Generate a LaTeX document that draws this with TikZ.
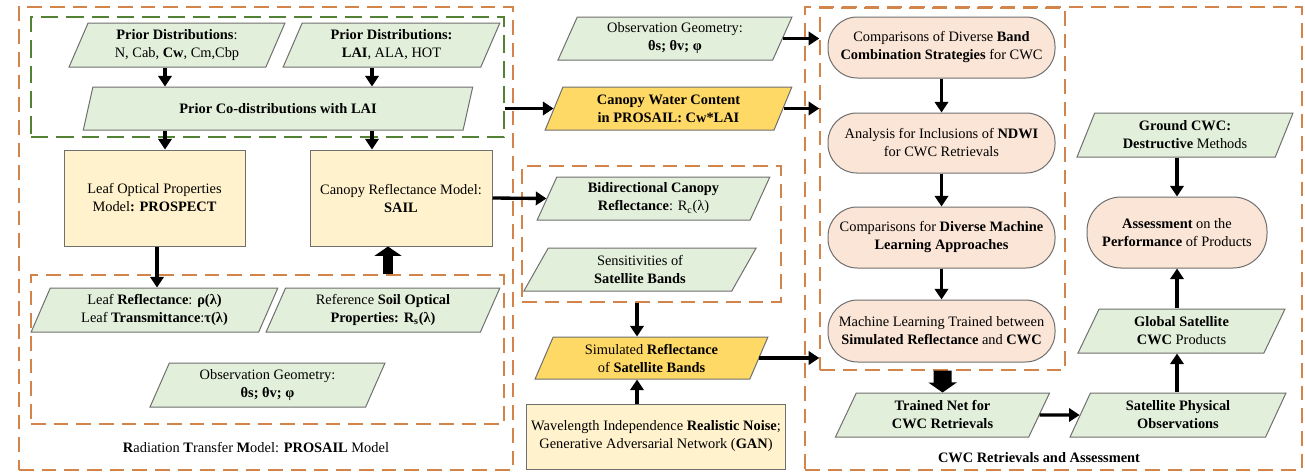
\documentclass[tikz,border=0pt]{standalone}
\usepackage{fontspec}
\setmainfont{Liberation Serif}
\usetikzlibrary{shapes.geometric,arrows.meta}

\definecolor{parafill}{HTML}{E2EFDA}
\definecolor{boxfill}{HTML}{FFF2CC}
\definecolor{goldfill}{HTML}{FFD966}
\definecolor{peachfill}{HTML}{FBE5D6}
\definecolor{edgegray}{HTML}{6F6F6F}
\definecolor{dashorange}{HTML}{D2844A}
\definecolor{dashgreen}{HTML}{548235}

\tikzset{every picture/.style={line width=0.75pt}}
\tikzset{
  para/.style 2 args={trapezium, trapezium left angle=68, trapezium right angle=112,
    trapezium stretches=true, draw=edgegray, fill=parafill, align=center, inner sep=1pt,
    minimum width=#1*0.75pt, minimum height=#2*0.75pt},
  gold/.style={fill=goldfill},
  sqbox/.style 2 args={rectangle, draw=edgegray, fill=boxfill, align=center,
    minimum width=#1*0.75pt, minimum height=#2*0.75pt},
  pill/.style 2 args={rectangle, rounded corners=#2*0.36pt, draw=edgegray, fill=peachfill,
    align=center, minimum width=#1*0.75pt, minimum height=#2*0.75pt},
  frm/.style 2 args={rectangle, draw=dashorange, dash pattern=on 11pt off 6pt, line width=1.1pt,
    inner sep=0pt, minimum width=#1*0.75pt, minimum height=#2*0.75pt},
  gfrm/.style 2 args={frm={#1}{#2}, draw=dashgreen, dash pattern=on 13pt off 6pt},
  arr/.style={-{Triangle[length=8pt,width=10pt]}, line width=2.5pt},
  blk/.style={-{Triangle[length=7pt,width=20pt]}, line width=7.5pt}
}

\begin{document}
\begin{tikzpicture}[x=0.75pt,y=0.75pt,yscale=-1,xscale=1,
  every node/.style={font=\fontsize{10.8}{13.5}\selectfont}]
	\useasboundingbox (0,0) rectangle (1305,471);

	%Dashed frames
	\node[frm={494}{463}] (outL) at (266,238.5) {};
	\node[gfrm={473}{120}] (prior) at (267.5,77) {};
	\node[frm={473}{149}] (inL) at (267.5,349.5) {};
	\node[frm={259}{136}] (midB) at (651.5,234) {};
	\node[frm={497}{463}] (outR) at (1053.5,238.5) {};
	\node[frm={245}{362}] (inR) at (942.5,189) {};

	%Left part: PROSAIL
	\node[para={216}{44}] (pd1) at (177,45) {\textbf{Prior Distributions}:\\N, Cab, \textbf{Cw}, Cm,Cbp};
	\node[para={217}{44}] (pd2) at (391.5,45) {\textbf{Prior Distributions:}\\\textbf{LAI}, ALA, HOT};
	\node[para={390}{43}] (codist) at (278,108.5) {\textbf{Prior Co-distributions with LAI}};
	\node[sqbox={181}{96}] (prospect) at (154.5,198) {Leaf Optical Properties\\Model\textbf{: PROSPECT}};
	\node[sqbox={182}{96}] (sail) at (401,198) {Canopy Reflectance Model:\\\textbf{SAIL}};
	\node[para={247}{44}] (leafrt) at (154.5,310) {Leaf \textbf{Reflectance}: \textbf{ρ(λ)}\\Leaf \textbf{Transmittance}:\textbf{τ(λ)}};
	\node[para={234}{44}] (soil) at (383,310) {Reference \textbf{Soil Optical}\\\textbf{Properties: R\textsubscript{s}(λ)}};
	\node[para={235}{44}] (geomL) at (267.5,385) {Observation Geometry:\\\textbf{θs; θv; φ}};
	% Text Node
	\node (lblL) at (256,448) {\textbf{R}adiation \textbf{T}ransfer \textbf{M}odel: \textbf{PROSAIL} Model};

	%Middle part
	\node[para={234}{43}] (geomM) at (675,38.5) {Observation Geometry:\\\textbf{θs; θv; φ}};
	\node[para={247}{43}, gold] (cwc) at (668.5,108.5) {\textbf{Canopy Water Content}\\\textbf{in PROSAIL: Cw*LAI}};
	\node[para={233}{43}] (bidir) at (653.5,198.5) {\textbf{Bidirectional Canopy}\\\textbf{Reflectance}: R\textsubscript{c}(λ)};
	\node[para={234}{43}] (sens) at (640,269.5) {Sensitivities of\\\textbf{Satellite Bands}};
	\node[para={233}{42}, gold] (simref) at (651.5,358) {Simulated \textbf{Reflectance}\\of \textbf{Satellite Bands}};
	\node[sqbox={258}{65}] (gan) at (656,436.5) {Wavelength Independence \textbf{Realistic Noise};\\Generative Adversarial Network (\textbf{GAN})};

	%Right part: retrievals
	\node[pill={227}{61}] (band) at (941.5,47.5) {Comparisons of Diverse \textbf{Band}\\\textbf{Combination Strategies} for CWC};
	\node[pill={227}{60}] (ndwi) at (941.5,143) {Analysis for Inclusions of \textbf{NDWI}\\for CWC Retrievals};
	\node[pill={227}{61}] (mlcomp) at (941.5,237.5) {Comparisons for \textbf{Diverse Machine}\\\textbf{Learning Approaches}};
	\node[pill={227}{62}] (mltrain) at (941.5,331) {Machine Learning Trained between\\\textbf{Simulated Reflectance} and \textbf{CWC}};
	\node[para={215}{44}] (tnet) at (942.5,415) {\textbf{Trained Net for}\\\textbf{CWC Retrievals}};
	\node[para={216}{44}] (ground) at (1185,135) {\textbf{Ground CWC:}\\\textbf{Destructive} Methods};
	\node[pill={180}{71}] (assess) at (1177,232.5) {\textbf{Assessment} on the\\\textbf{Performance} of Products};
	\node[para={209}{44}] (glob) at (1181.5,331) {\textbf{Global Satellite}\\\textbf{CWC} Products};
	\node[para={216}{44}] (satobs) at (1178,415) {\textbf{Satellite Physical}\\\textbf{Observations}};
	% Text Node
	\node (lblR) at (1039,458) {\textbf{CWC Retrievals and Assessment}};

	%Arrow columns
	\coordinate (colA) at (165,0);
	\coordinate (colB) at (372,0);
	\coordinate (colC) at (157,0);
	\coordinate (colD) at (388,0);
	\coordinate (colE) at (637,0);

	%Straight Lines
	\draw[arr] (pd1.south -| colA) -- (codist.north -| colA);
	\draw[arr] (pd2.south -| colB) -- (codist.north -| colB);
	\draw[arr] (codist.south -| colA) -- (prospect.north -| colA);
	\draw[arr] (codist.south -| colB) -- (sail.north -| colB);
	\draw[arr] (prospect.south -| colC) -- (leafrt.north -| colC);
	\draw[blk] (inL.north -| colD) -- (sail.south -| colD);
	\draw[arr] (cwc.west -| prior.east) -- (cwc.west);
	\draw[arr] (sail.east) -- (bidir.west);
	\draw[arr] (midB.south -| colE) -- (simref.north -| colE);
	\draw[arr] (gan.north -| colE) -- (simref.south -| colE);
	\draw[arr] (geomM.east) -- (geomM.east -| inR.west);
	\draw[arr] (cwc.east) -- (cwc.east -| inR.west);
	\draw[arr] (simref.east) -- (simref.east -| inR.west);
	\draw[arr] (band) -- (ndwi);
	\draw[arr] (ndwi) -- (mlcomp);
	\draw[arr] (mlcomp) -- (mltrain);
	\draw[line width=13.5pt, -{Triangle[length=7.5pt,width=21pt]}] (inR.south) -- (tnet.north);
	\draw[arr] (tnet.east) -- (satobs.west);
	\draw[arr] (satobs.north -| assess.south) -- (glob.south -| assess.south);
	\draw[arr] (glob.north -| assess.south) -- (assess.south);
	\draw[arr] (ground.south -| assess.north) -- (assess.north);
\end{tikzpicture}
\end{document}
